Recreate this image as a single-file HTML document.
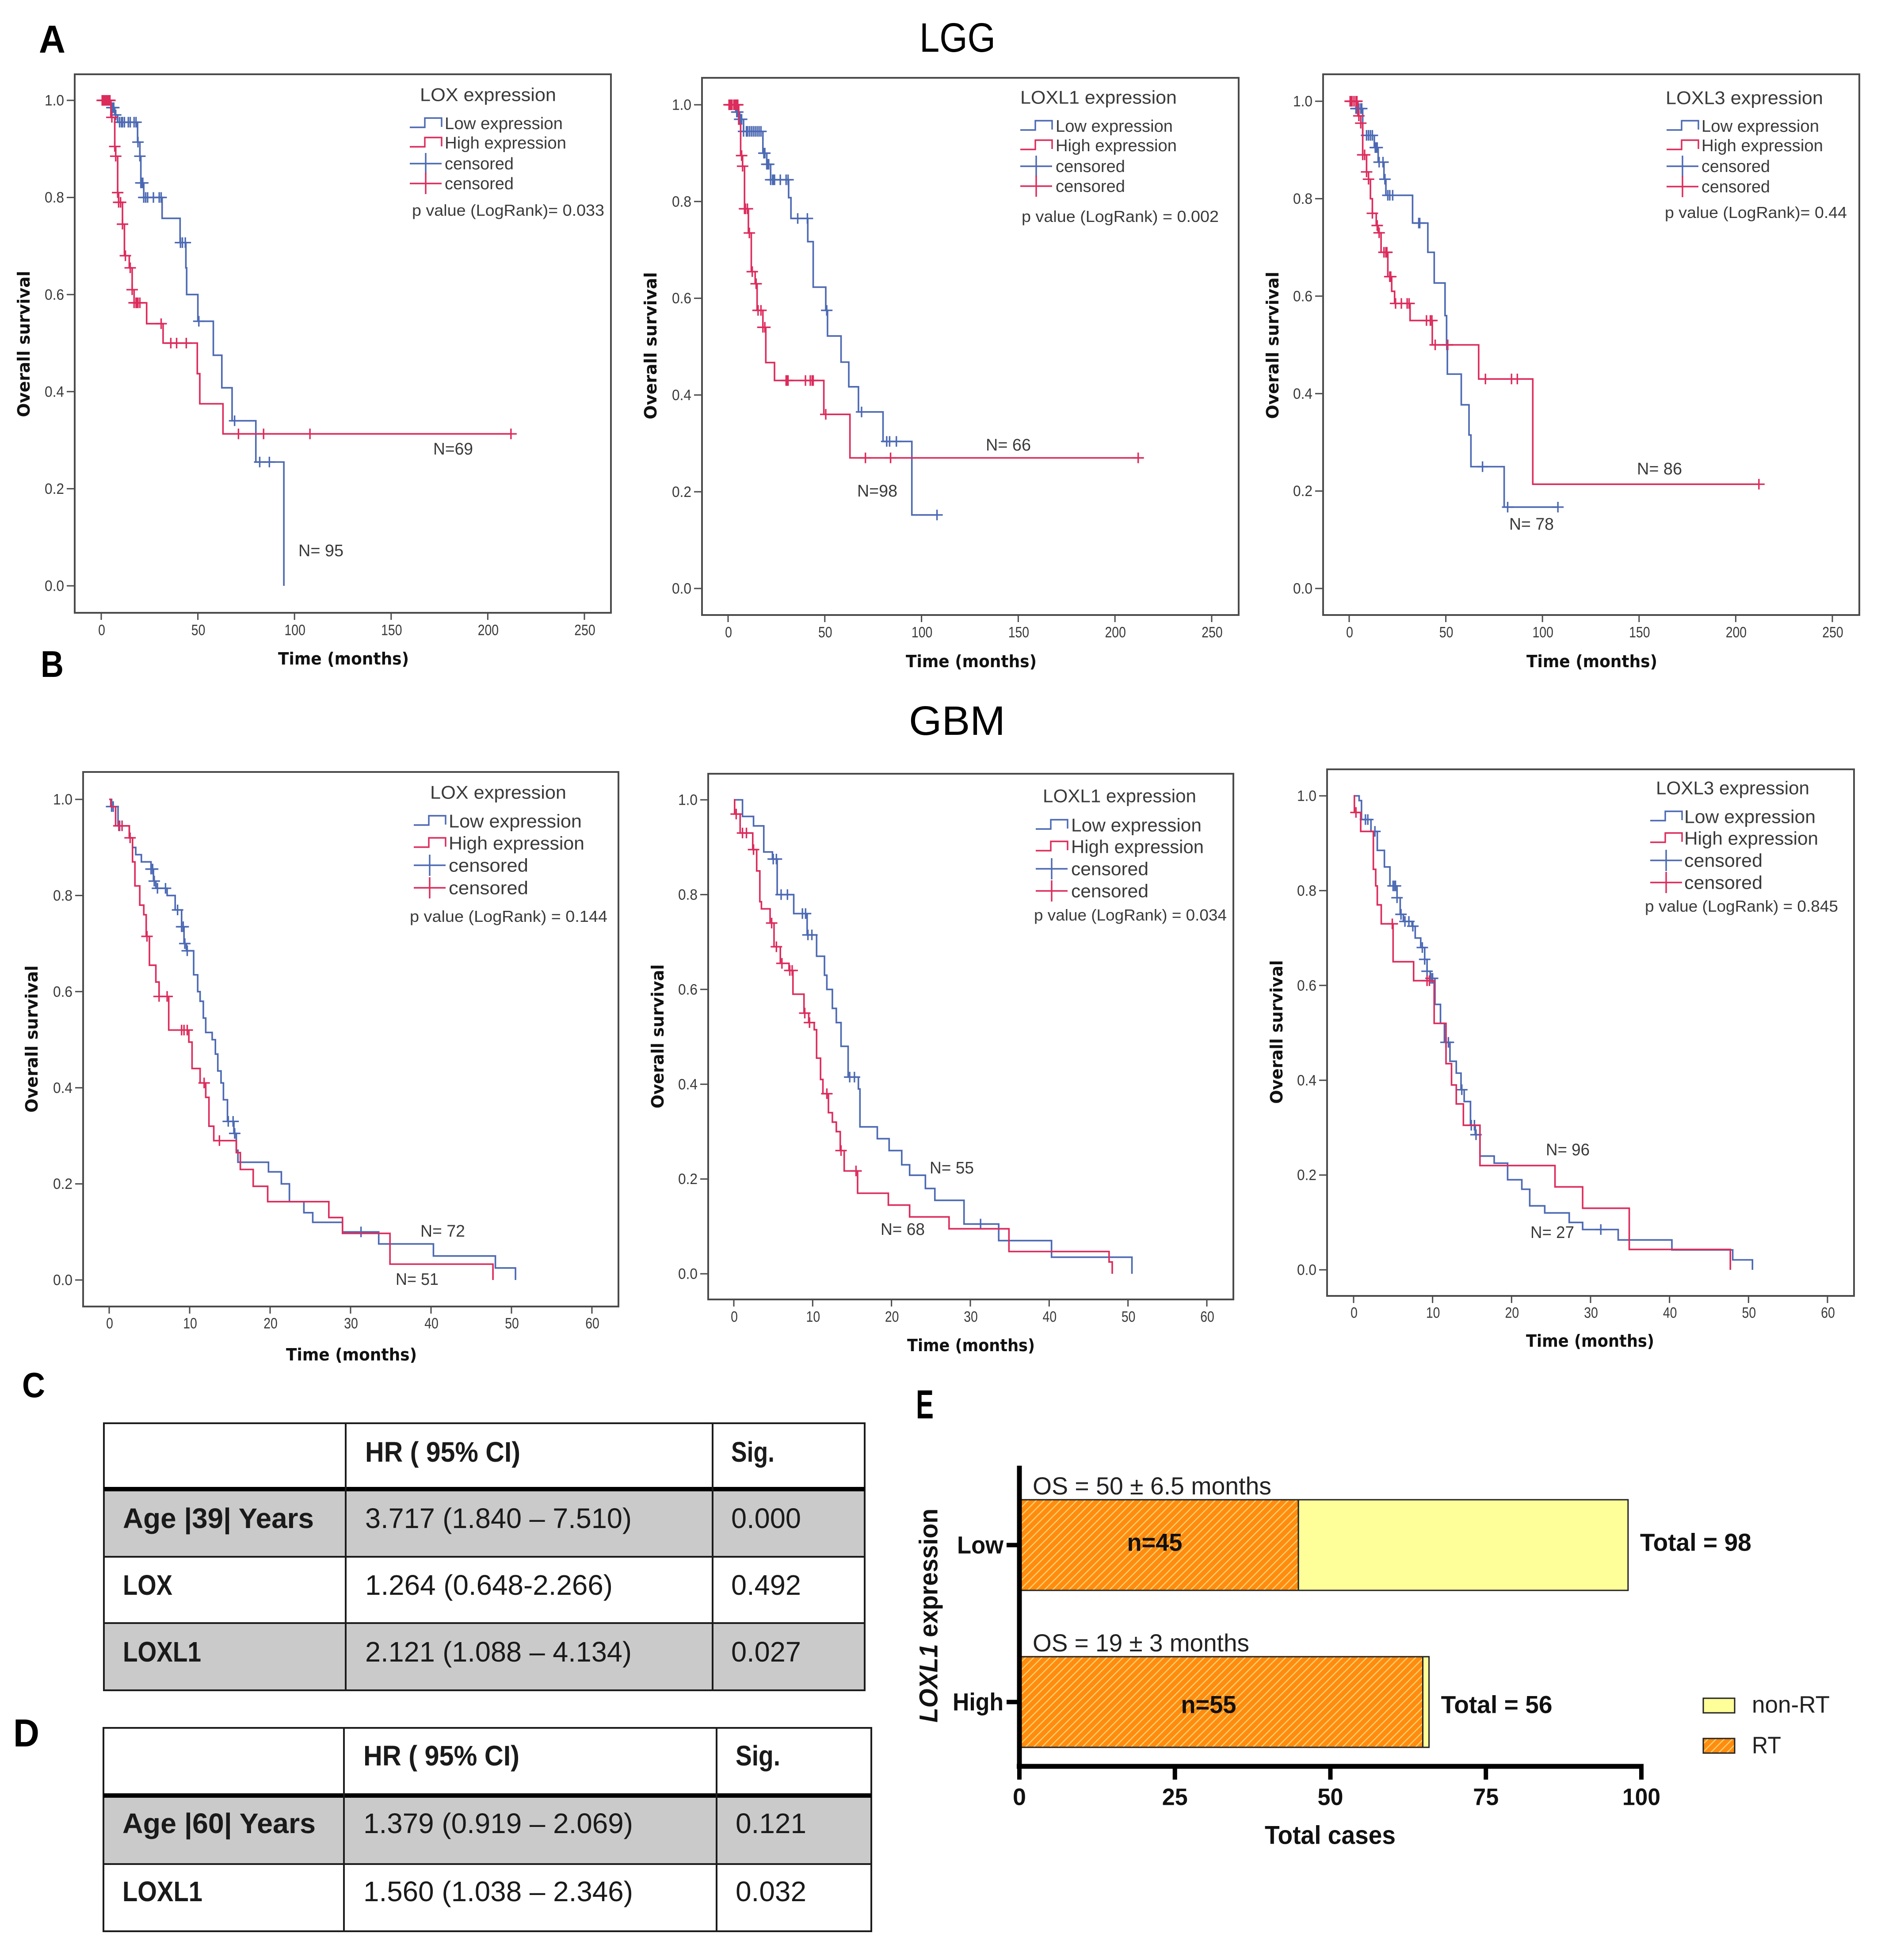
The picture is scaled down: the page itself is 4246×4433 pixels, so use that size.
<!DOCTYPE html>
<html lang="en">
<head>
<meta charset="utf-8">
<title>LOX family survival figure</title>
<style>
html,body{margin:0;padding:0;background:#fff;}
#figure-root{position:relative;width:4246px;height:4433px;overflow:hidden;background:#fff;}
svg{display:block;}
.cell{font-family:"Liberation Sans",sans-serif;font-size:64px;fill:#1a1a1a;}
.cell-b{font-family:"Liberation Sans",sans-serif;font-size:64px;font-weight:bold;fill:#1a1a1a;}
.panel{font-family:"Liberation Sans",sans-serif;font-weight:bold;fill:#000;}
.line{stroke:#1c1c1c;stroke-width:4;}
.thick{stroke:#000;stroke-width:10;}
</style>
</head>
<body>
<div id="figure-root">
<svg id="figure" xmlns="http://www.w3.org/2000/svg" width="4246" height="4433" viewBox="0 0 4246 4433">
  <defs>
    <pattern id="rt-hatch" patternUnits="userSpaceOnUse" width="13" height="13" patternTransform="rotate(45)">
      <rect width="13" height="13" fill="#ff8c0e"/>
      <rect width="2.6" height="13" fill="#ffcf70"/>
    </pattern>
  </defs>

  <text class="panel" x="88" y="119" font-size="88" textLength="60" lengthAdjust="spacingAndGlyphs">A</text>
  <text class="panel" x="92" y="1531" font-size="84" textLength="52" lengthAdjust="spacingAndGlyphs">B</text>
  <text class="panel" x="50" y="3160" font-size="80" textLength="52" lengthAdjust="spacingAndGlyphs">C</text>
  <text class="panel" x="30" y="3950" font-size="88" textLength="59" lengthAdjust="spacingAndGlyphs">D</text>
  <text class="panel" x="2072" y="3208" font-size="92" textLength="40" lengthAdjust="spacingAndGlyphs">E</text>
  <text x="2080" y="117" font-family="Liberation Sans, sans-serif" font-size="93" fill="#000" textLength="172" lengthAdjust="spacingAndGlyphs">LGG</text>
  <text x="2056" y="1662" font-family="Liberation Sans, sans-serif" font-size="93" fill="#000" textLength="218" lengthAdjust="spacingAndGlyphs">GBM</text>

  <g>
    <rect x="235" y="3368" width="1721" height="153" fill="#cacaca"/>
    <rect x="235" y="3671" width="1721" height="152" fill="#cacaca"/>
    <rect class="line" x="235" y="3219" width="1721" height="604" fill="none"/>
    <line class="thick" x1="235" x2="1956" y1="3368" y2="3368"/>
    <line class="line" x1="235" x2="1956" y1="3521" y2="3521"/>
    <line class="line" x1="235" x2="1956" y1="3671" y2="3671"/>
    <line class="line" x1="782" x2="782" y1="3219" y2="3823"/>
    <line class="line" x1="1612" x2="1612" y1="3219" y2="3823"/>
    <text class="cell-b" x="826" y="3306" textLength="351" lengthAdjust="spacingAndGlyphs">HR ( 95% CI)</text>
    <text class="cell-b" x="1654" y="3306" textLength="98" lengthAdjust="spacingAndGlyphs">Sig.</text>
    <text class="cell-b" x="278" y="3456" textLength="432" lengthAdjust="spacingAndGlyphs">Age |39| Years</text>
    <text class="cell" x="826" y="3456" textLength="603" lengthAdjust="spacingAndGlyphs">3.717 (1.840 – 7.510)</text>
    <text class="cell" x="1654" y="3456" textLength="158" lengthAdjust="spacingAndGlyphs">0.000</text>
    <text class="cell-b" x="278" y="3607" textLength="112" lengthAdjust="spacingAndGlyphs">LOX</text>
    <text class="cell" x="826" y="3607" textLength="560" lengthAdjust="spacingAndGlyphs">1.264 (0.648-2.266)</text>
    <text class="cell" x="1654" y="3607" textLength="158" lengthAdjust="spacingAndGlyphs">0.492</text>
    <text class="cell-b" x="278" y="3758" textLength="177" lengthAdjust="spacingAndGlyphs">LOXL1</text>
    <text class="cell" x="826" y="3758" textLength="603" lengthAdjust="spacingAndGlyphs">2.121 (1.088 – 4.134)</text>
    <text class="cell" x="1654" y="3758" textLength="158" lengthAdjust="spacingAndGlyphs">0.027</text>
  </g>

  <g>
    <rect x="234" y="4061" width="1737" height="155" fill="#cacaca"/>
    <rect class="line" x="234" y="3908" width="1737" height="460" fill="none"/>
    <line class="thick" x1="234" x2="1971" y1="4061" y2="4061"/>
    <line class="line" x1="234" x2="1971" y1="4216" y2="4216"/>
    <line class="line" x1="778" x2="778" y1="3908" y2="4368"/>
    <line class="line" x1="1621" x2="1621" y1="3908" y2="4368"/>
    <text class="cell-b" x="822" y="3993" textLength="353" lengthAdjust="spacingAndGlyphs">HR ( 95% CI)</text>
    <text class="cell-b" x="1664" y="3993" textLength="101" lengthAdjust="spacingAndGlyphs">Sig.</text>
    <text class="cell-b" x="277" y="4146" textLength="437" lengthAdjust="spacingAndGlyphs">Age |60| Years</text>
    <text class="cell" x="822" y="4146" textLength="610" lengthAdjust="spacingAndGlyphs">1.379 (0.919 – 2.069)</text>
    <text class="cell" x="1664" y="4146" textLength="160" lengthAdjust="spacingAndGlyphs">0.121</text>
    <text class="cell-b" x="277" y="4300" textLength="181" lengthAdjust="spacingAndGlyphs">LOXL1</text>
    <text class="cell" x="822" y="4300" textLength="610" lengthAdjust="spacingAndGlyphs">1.560 (1.038 – 2.346)</text>
    <text class="cell" x="1664" y="4300" textLength="160" lengthAdjust="spacingAndGlyphs">0.032</text>
  </g>
</svg>
</div>

<script>
// Axis values
const lggTimeTicks = [0, 50, 100, 150, 200, 250];
const gbmTimeTicks = [0, 10, 20, 30, 40, 50, 60];
const survivalTicks = [0, 0.2, 0.4, 0.6, 0.8, 1];

// LGG / LOX
const lggLoxLowTimes = [5, 7, 8.5, 18.8, 20, 20.5, 22, 31.5, 40.8, 43.8, 44.2, 50, 58, 62.4, 67.7, 80, 94.5];
const lggLoxLowSurvival = [0.985, 0.97, 0.955, 0.914, 0.885, 0.83, 0.8, 0.757, 0.707, 0.655, 0.6, 0.545, 0.475, 0.408, 0.34, 0.255, 0];
const lggLoxLowCensored = [5.5, 6, 6.5, 7.5, 9.5, 10.5, 11, 12, 14, 15, 17, 18, 19, 20, 20.5, 21, 21.5, 22, 23, 24, 27, 30, 31, 41, 42, 43.5, 50.5, 69, 82, 87];
const lggLoxHighTimes = [5, 7, 7.5, 8.5, 9, 11, 12, 14.5, 16, 17, 23.5, 32, 49.7, 51, 63];
const lggLoxHighSurvival = [0.965, 0.905, 0.885, 0.81, 0.79, 0.745, 0.68, 0.655, 0.61, 0.583, 0.54, 0.5, 0.437, 0.375, 0.313];
const lggLoxHighCensored = [0.5, 1, 1.5, 2, 2.5, 3, 3.5, 4, 4.5, 5.5, 7, 7.5, 8.5, 9, 10, 11, 12.5, 15, 16, 17, 18, 18.5, 19, 20, 31, 36, 39, 44, 71, 84, 108, 212];

// LGG / LOXL1
const lggLoxl1LowTimes = [4, 6, 8, 18, 20, 22, 31.3, 32.5, 41.2, 44, 50.5, 51.4, 58.4, 62.4, 67.4, 80.1, 95];
const lggLoxl1LowSurvival = [0.985, 0.97, 0.945, 0.9, 0.877, 0.845, 0.808, 0.765, 0.717, 0.623, 0.575, 0.522, 0.468, 0.417, 0.365, 0.304, 0.152];
const lggLoxl1LowCensored = [4.5, 5, 6, 6.5, 7, 8, 9.5, 10, 11, 12, 13, 14, 15, 16, 17, 18.5, 19, 20, 20.5, 21, 22, 23, 23.5, 24, 27, 30, 31, 36, 41, 51, 69, 82, 83.5, 87, 108];
const lggLoxl1HighTimes = [5.5, 6.5, 7.5, 8.5, 10.5, 12, 14, 15, 18, 19.5, 24, 49.5, 63];
const lggLoxl1HighSurvival = [0.96, 0.895, 0.873, 0.785, 0.735, 0.655, 0.63, 0.575, 0.54, 0.467, 0.43, 0.36, 0.27];
const lggLoxl1HighCensored = [0.5, 1, 1.5, 2, 3, 3.5, 4, 4.5, 5, 7, 7.5, 8.5, 9, 10, 11, 12.5, 14.5, 15.5, 17, 18, 19, 30, 30.5, 31, 40, 42.5, 43.5, 44, 50.5, 71, 84, 212];

// LGG / LOXL3
const lggLoxl3LowTimes = [3.5, 7, 13, 15, 18, 19, 32.8, 40.7, 44, 49.6, 50.4, 50.8, 58, 62, 63, 80.2];
const lggLoxl3LowSurvival = [0.985, 0.93, 0.905, 0.875, 0.84, 0.807, 0.75, 0.69, 0.627, 0.56, 0.5, 0.44, 0.377, 0.315, 0.25, 0.167];
const lggLoxl3LowCensored = [3.5, 4, 5, 6, 6.5, 9, 10, 11, 12, 13.5, 14, 14.5, 15.5, 17.5, 18.5, 20, 21, 22.5, 36, 36.5, 50.5, 69, 82, 108];
const lggLoxl3HighTimes = [4.5, 6, 7, 9, 10, 11, 12, 14, 15, 16.5, 20, 22, 23.5, 31.5, 43, 67, 95];
const lggLoxl3HighSurvival = [0.97, 0.955, 0.89, 0.855, 0.84, 0.8, 0.77, 0.745, 0.73, 0.69, 0.64, 0.61, 0.585, 0.55, 0.5, 0.43, 0.214];
const lggLoxl3HighCensored = [0.5, 1, 1.5, 2.5, 3.5, 4, 5, 6, 7, 8, 9, 10, 12, 14.5, 15.5, 18, 19, 19.5, 21, 21.5, 24, 27, 30, 31, 40, 42, 42.8, 44.5, 51, 70.5, 84, 87, 212];

// GBM / LOX
const gbmLoxLowTimes = [0.3, 1.1, 2.5, 2.9, 3.3, 4, 5.2, 5.5, 5.8, 7.2, 8.2, 9, 9.3, 9.6, 10.5, 11, 11.3, 11.7, 12, 12.8, 13.2, 13.5, 13.9, 14.2, 14.7, 15.5, 15.8, 16, 19.8, 21.4, 22.4, 24.2, 25.3, 29, 33.5, 40.3, 48, 50.5];
const gbmLoxLowSurvival = [0.985, 0.945, 0.92, 0.9, 0.885, 0.87, 0.855, 0.83, 0.815, 0.8, 0.77, 0.735, 0.7, 0.685, 0.635, 0.6, 0.58, 0.545, 0.515, 0.5, 0.47, 0.435, 0.41, 0.375, 0.33, 0.305, 0.27, 0.245, 0.225, 0.2, 0.163, 0.14, 0.12, 0.1, 0.075, 0.05, 0.025, 0];
const gbmLoxLowCensored = [0.3, 0.5, 1.3, 5.2, 5.4, 5.6, 6, 7, 8.5, 9, 9.2, 9.4, 9.7, 14.8, 15.4, 15.6, 31.3];
const gbmLoxHighTimes = [0.2, 0.8, 2.5, 2.9, 3.2, 3.8, 4.3, 4.6, 5, 5.8, 6.2, 7.4, 9.9, 10.3, 11.3, 12, 12.4, 13, 15.8, 16.3, 17.9, 19.7, 27.3, 29, 34.9, 47.7];
const gbmLoxHighSurvival = [0.985, 0.945, 0.92, 0.87, 0.82, 0.78, 0.76, 0.715, 0.655, 0.62, 0.59, 0.52, 0.495, 0.44, 0.41, 0.38, 0.32, 0.29, 0.265, 0.23, 0.195, 0.163, 0.13, 0.097, 0.033, 0];
const gbmLoxHighCensored = [1.2, 1.6, 2.6, 4.7, 6.2, 7.2, 9, 9.3, 9.7, 11.8, 13.7];

// GBM / LOXL1
const gbmLoxl1LowTimes = [1.1, 2.5, 3.8, 4.9, 5.5, 7.6, 9.3, 10.5, 11.5, 11.8, 12.5, 13, 13.6, 14.5, 15.8, 16, 18.2, 19.7, 21.3, 22.3, 24.3, 25.5, 29.2, 33.6, 40.3, 50.5];
const gbmLoxl1LowSurvival = [0.965, 0.945, 0.89, 0.875, 0.8, 0.76, 0.715, 0.67, 0.63, 0.6, 0.56, 0.53, 0.48, 0.415, 0.39, 0.31, 0.285, 0.26, 0.23, 0.208, 0.18, 0.155, 0.105, 0.07, 0.035, 0];
const gbmLoxl1LowCensored = [5, 5.4, 6, 6.8, 8.7, 9.1, 9.4, 9.9, 14.7, 15.3, 31.3];
const gbmLoxl1HighTimes = [0.1, 0.8, 2.4, 2.9, 3.3, 3.5, 4.6, 5.1, 5.9, 7, 7.5, 8.9, 9.5, 10.2, 10.5, 11, 11.3, 12, 12.5, 13, 13.5, 14, 15.7, 19.6, 22.3, 27.3, 34.9, 47.6, 48];
const gbmLoxl1HighSurvival = [0.97, 0.93, 0.895, 0.85, 0.785, 0.77, 0.74, 0.69, 0.655, 0.64, 0.59, 0.55, 0.53, 0.515, 0.455, 0.41, 0.38, 0.34, 0.32, 0.3, 0.26, 0.217, 0.17, 0.145, 0.12, 0.095, 0.047, 0.025, 0];
const gbmLoxl1HighCensored = [0.3, 1.1, 1.6, 2.5, 4.8, 5.4, 6.1, 7.1, 7.4, 9, 9.6, 11.8, 13.6, 15.5];

// GBM / LOXL3
const gbmLoxl3LowTimes = [0.7, 1, 2.2, 3, 3.9, 4.6, 5.5, 5.9, 6.3, 7.4, 7.8, 8.5, 9, 9.3, 9.7, 10.3, 11, 11.5, 12.2, 13, 13.6, 14, 14.8, 15.4, 16, 17.8, 19.5, 21.3, 22.3, 24.2, 27.3, 29, 33.5, 40.3, 48, 50.5];
const gbmLoxl3LowSurvival = [0.99, 0.95, 0.925, 0.885, 0.85, 0.81, 0.785, 0.75, 0.735, 0.725, 0.7, 0.68, 0.655, 0.63, 0.615, 0.56, 0.52, 0.48, 0.44, 0.415, 0.38, 0.355, 0.305, 0.285, 0.24, 0.225, 0.19, 0.17, 0.135, 0.12, 0.1, 0.085, 0.063, 0.042, 0.021, 0];
const gbmLoxl3LowCensored = [1.5, 1.8, 2.7, 5, 5.2, 5.3, 5.5, 6, 6.5, 7, 7.5, 8.7, 9, 9.3, 9.8, 10, 11.7, 12, 13.7, 14.9, 15.3, 15.5, 31.3];
const gbmLoxl3HighTimes = [0.1, 0.9, 2.5, 2.8, 3, 3.5, 5, 7.6, 10.2, 11.7, 12.4, 13, 13.9, 16, 25.5, 29, 34.9, 47.7];
const gbmLoxl3HighSurvival = [0.965, 0.925, 0.845, 0.81, 0.77, 0.73, 0.65, 0.61, 0.52, 0.435, 0.39, 0.35, 0.305, 0.22, 0.175, 0.13, 0.043, 0];
const gbmLoxl3HighCensored = [0.3, 4.9, 9.3, 9.6];

// Bar chart values
const barCategories = ['Low', 'High'];
const barRtValues = [45, 65];
const barNonRtValues = [53, 1];
const barTicks = [0, 25, 50, 75, 100];
const barOsLabels = ['OS = 50 ± 6.5 months', 'OS = 19 ± 3 months'];
const barCountLabels = ['n=45', 'n=55'];
const barTotalLabels = ['Total = 98', 'Total = 56'];

const NS = 'http://www.w3.org/2000/svg';
const svg = document.getElementById('figure');
const BLUE = '#4c69b3';
const RED = '#dc2c5c';
const SANS = '"Liberation Sans", sans-serif';
const DEJAVU = '"DejaVu Sans", "Liberation Sans", sans-serif';

function addText(parent, name, str, x, y, size, len, anchor, family, weight, fill, rotate) {
  const el = document.createElementNS(NS, 'text');
  
  
  const baseline = rotate ? x + 0.34 * size : y + 0.34 * size;
  el.setAttribute('x', rotate ? x + 0.34 * size : x);
  el.setAttribute('y', rotate ? y : baseline);
  if (rotate) el.setAttribute('transform', 'rotate(-90 ' + (x + 0.34 * size) + ' ' + y + ')');
  el.setAttribute('font-size', size);
  el.setAttribute('font-family', family || SANS);
  el.setAttribute('font-weight', weight || 'normal');
  el.setAttribute('fill', fill || '#3a3a3a');
  el.setAttribute('text-anchor', anchor || 'start');
  if (len) {
    el.setAttribute('textLength', len);
    el.setAttribute('lengthAdjust', 'spacingAndGlyphs');
  }
  el.textContent = str;
  parent.appendChild(el);
  return el;
}

function addLine(parent, name, x1, y1, x2, y2, stroke, width) {
  const el = document.createElementNS(NS, 'line');
  
  
  el.setAttribute('x1', x1);
  el.setAttribute('y1', y1);
  el.setAttribute('x2', x2);
  el.setAttribute('y2', y2);
  el.setAttribute('stroke', stroke);
  el.setAttribute('stroke-width', width);
  parent.appendChild(el);
  return el;
}

function addPath(parent, name, d, stroke, width) {
  const el = document.createElementNS(NS, 'path');
  
  
  el.setAttribute('d', d);
  el.setAttribute('fill', 'none');
  el.setAttribute('stroke', stroke);
  el.setAttribute('stroke-width', width);
  parent.appendChild(el);
  return el;
}

function addRect(parent, name, x, y, w, h, fill, stroke) {
  const el = document.createElementNS(NS, 'rect');
  
  
  el.setAttribute('x', x);
  el.setAttribute('y', y);
  el.setAttribute('width', w);
  el.setAttribute('height', h);
  el.setAttribute('fill', fill);
  if (stroke) {
    el.setAttribute('stroke', stroke);
    el.setAttribute('stroke-width', 3);
  }
  parent.appendChild(el);
  return el;
}

function survivalAt(times, survival, t) {
  let s = 1;
  for (let i = 0; i < times.length; i++) {
    if (times[i] <= t) s = survival[i];
  }
  return s;
}

function drawSeries(group, key, times, survival, censored, color, sx, sy) {
  let d = 'M' + sx(0) + ' ' + sy(1);
  for (let i = 0; i < times.length; i++) {
    d += 'H' + sx(times[i]) + 'V' + sy(survival[i]);
  }
  const lastEvent = times[times.length - 1];
  const lastCensor = censored.length ? censored[censored.length - 1] : lastEvent;
  if (lastCensor > lastEvent) d += 'H' + sx(lastCensor);
  addPath(group, key + '-survival-curve', d, color, 3.6);
  censored.forEach(function (t) {
    const cx = sx(t);
    const cy = sy(survivalAt(times, survival, t));
    addPath(group, key + '-censor-mark', 'M' + (cx - 13) + ' ' + cy + 'H' + (cx + 13) + 'M' + cx + ' ' + (cy - 12) + 'V' + (cy + 12), color, 3.4);
  });
}

function drawLegend(group, p) {
  const L = p.legend;
  addText(group, 'legend-title', p.legendTitle, L.titleX, L.titleY, 42, L.titleLen);
  const rows = [
    ['legend-low-expression', 'Low expression', BLUE, 'step', L.lowLen],
    ['legend-high-expression', 'High expression', RED, 'step', L.highLen],
    ['legend-censored-low', 'censored', BLUE, 'cross', L.censLen],
    ['legend-censored-high', 'censored', RED, 'cross', L.censLen]
  ];
  rows.forEach(function (row, i) {
    const y = L.rowY[i];
    const sx0 = L.sampleX;
    if (row[3] === 'step') {
      addPath(group, row[0] + '-sample', 'M' + sx0 + ' ' + (y + 9) + 'H' + (sx0 + 34) + 'V' + (y - 12) + 'H' + (sx0 + 72) + 'V' + (y + 8), row[2], 3.4);
    } else {
      addPath(group, row[0] + '-sample', 'M' + sx0 + ' ' + y + 'H' + (sx0 + 72) + 'M' + (sx0 + 36) + ' ' + (y - 24) + 'V' + (y + 24), row[2], 3.4);
    }
    addText(group, row[0] + '-label', row[1], L.textX, y, L.rowSize, row[4]);
  });
  addText(group, 'p-value-label', p.pText, L.pX, L.pY, 36, L.pLen);
  p.nLabels.forEach(function (n) {
    addText(group, 'sample-size-label', n[0], n[1], n[2], 38, n[3]);
  });
}

function drawKaplanMeier(p) {
  const group = document.createElementNS(NS, 'g');
  
  
  svg.appendChild(group);
  const F = p.frame;
  const xMax = p.timeTicks[p.timeTicks.length - 1];
  const sx = function (t) { return p.x0 + t * (p.xEnd - p.x0) / xMax; };
  const sy = function (s) { return p.y0 + s * (p.y1 - p.y0); };

  addRect(group, 'plot-frame', F[0], F[1], F[2] - F[0], F[3] - F[1], '#ffffff', null).setAttribute('stroke', '#4b4b4b');
  group.lastChild.setAttribute('stroke-width', 4);

  p.timeTicks.forEach(function (t) {
    addLine(group, 'x-tick', sx(t), F[3], sx(t), F[3] + 16, '#4b4b4b', 3);
    const s = String(t);
    addText(group, 'x-tick-label', s, sx(t) + 1, p.xLabelY, 34, s.length * 15.8, 'middle');
  });
  survivalTicks.forEach(function (s) {
    addLine(group, 'y-tick', F[0] - 18, sy(s), F[0], sy(s), '#4b4b4b', 3);
    addText(group, 'y-tick-label', s.toFixed(1), F[0] - 24, sy(s), 34, 44, 'end');
  });
  addText(group, 'x-axis-title', 'Time (months)', p.xTitle[0], p.xTitle[1], 38, p.xTitle[2], 'start', DEJAVU, 'bold', '#111');
  addText(group, 'y-axis-title', 'Overall survival', p.yTitle[0], p.yTitle[1], 38, p.yTitle[2], 'middle', DEJAVU, 'bold', '#111', true);

  drawSeries(group, 'low-expression', p.low[0], p.low[1], p.low[2], BLUE, sx, sy);
  drawSeries(group, 'high-expression', p.high[0], p.high[1], p.high[2], RED, sx, sy);
  drawLegend(group, p);
}

const panels = [
  { name: 'km-lgg-lox', frame: [169, 168, 1382, 1386], x0: 229, xEnd: 1322, y1: 227, y0: 1325, timeTicks: lggTimeTicks, xLabelY: 1425,
    xTitle: [629, 1490, 296], yTitle: [54, 778, 331],
    low: [lggLoxLowTimes, lggLoxLowSurvival, lggLoxLowCensored], high: [lggLoxHighTimes, lggLoxHighSurvival, lggLoxHighCensored],
    legendTitle: 'LOX expression', pText: 'p value (LogRank)= 0.033',
    legend: { titleX: 950, titleY: 214, titleLen: 308, sampleX: 927, textX: 1006, rowY: [279, 323, 370, 415], rowSize: 38, lowLen: 267, highLen: 275, censLen: 156, pX: 932, pY: 476, pLen: 435 },
    nLabels: [['N=69', 980, 1015, 90], ['N= 95', 675, 1245, 102]] },
  { name: 'km-lgg-loxl1', frame: [1588, 176, 2802, 1391], x0: 1647, xEnd: 2741, y1: 237, y0: 1331, timeTicks: lggTimeTicks, xLabelY: 1430,
    xTitle: [2049, 1496, 296], yTitle: [1472, 782, 333],
    low: [lggLoxl1LowTimes, lggLoxl1LowSurvival, lggLoxl1LowCensored], high: [lggLoxl1HighTimes, lggLoxl1HighSurvival, lggLoxl1HighCensored],
    legendTitle: 'LOXL1 expression', pText: 'p value (LogRank) = 0.002',
    legend: { titleX: 2308, titleY: 220, titleLen: 354, sampleX: 2308, textX: 2388, rowY: [285, 329, 376, 421], rowSize: 38, lowLen: 265, highLen: 274, censLen: 157, pX: 2311, pY: 490, pLen: 446 },
    nLabels: [['N= 66', 2230, 1006, 102], ['N=98', 1939, 1110, 91]] },
  { name: 'km-lgg-loxl3', frame: [2993, 168, 4206, 1391], x0: 3052, xEnd: 4145, y1: 229, y0: 1331, timeTicks: lggTimeTicks, xLabelY: 1430,
    xTitle: [3453, 1496, 296], yTitle: [2879, 781, 333],
    low: [lggLoxl3LowTimes, lggLoxl3LowSurvival, lggLoxl3LowCensored], high: [lggLoxl3HighTimes, lggLoxl3HighSurvival, lggLoxl3HighCensored],
    legendTitle: 'LOXL3 expression', pText: 'p value (LogRank)= 0.44',
    legend: { titleX: 3768, titleY: 221, titleLen: 356, sampleX: 3770, textX: 3849, rowY: [285, 329, 376, 422], rowSize: 38, lowLen: 266, highLen: 275, censLen: 155, pX: 3766, pY: 481, pLen: 412 },
    nLabels: [['N= 86', 3703, 1060, 102], ['N= 78', 3414, 1185, 101]] },
  { name: 'km-gbm-lox', frame: [188, 1746, 1399, 2955], x0: 247, xEnd: 1339, y1: 1808, y0: 2895, timeTicks: gbmTimeTicks, xLabelY: 2993,
    xTitle: [647, 3064, 296], yTitle: [72, 2350, 333],
    low: [gbmLoxLowTimes, gbmLoxLowSurvival, gbmLoxLowCensored], high: [gbmLoxHighTimes, gbmLoxHighSurvival, gbmLoxHighCensored],
    legendTitle: 'LOX expression', pText: 'p value (LogRank) = 0.144',
    legend: { titleX: 973, titleY: 1792, titleLen: 308, sampleX: 936, textX: 1015, rowY: [1857, 1907, 1957, 2008], rowSize: 42, lowLen: 301, highLen: 307, censLen: 180, pX: 927, pY: 2073, pLen: 447 },
    nLabels: [['N= 72', 951, 2784, 101], ['N= 51', 895, 2893, 97]] },
  { name: 'km-gbm-loxl1', frame: [1602, 1750, 2790, 2939], x0: 1660, xEnd: 2730, y1: 1809, y0: 2881, timeTicks: gbmTimeTicks, xLabelY: 2978,
    xTitle: [2052, 3043, 289], yTitle: [1488, 2344, 326],
    low: [gbmLoxl1LowTimes, gbmLoxl1LowSurvival, gbmLoxl1LowCensored], high: [gbmLoxl1HighTimes, gbmLoxl1HighSurvival, gbmLoxl1HighCensored],
    legendTitle: 'LOXL1 expression', pText: 'p value (LogRank) = 0.034',
    legend: { titleX: 2359, titleY: 1800, titleLen: 347, sampleX: 2343, textX: 2423, rowY: [1866, 1915, 1965, 2015], rowSize: 42, lowLen: 295, highLen: 300, censLen: 175, pX: 2339, pY: 2070, pLen: 436 },
    nLabels: [['N= 55', 2103, 2641, 100], ['N= 68', 1992, 2780, 100]] },
  { name: 'km-gbm-loxl3', frame: [3002, 1740, 4194, 2931], x0: 3062, xEnd: 4134, y1: 1800, y0: 2872, timeTicks: gbmTimeTicks, xLabelY: 2969,
    xTitle: [3452, 3033, 290], yTitle: [2888, 2334, 325],
    low: [gbmLoxl3LowTimes, gbmLoxl3LowSurvival, gbmLoxl3LowCensored], high: [gbmLoxl3HighTimes, gbmLoxl3HighSurvival, gbmLoxl3HighCensored],
    legendTitle: 'LOXL3 expression', pText: 'p value (LogRank) = 0.845',
    legend: { titleX: 3746, titleY: 1782, titleLen: 347, sampleX: 3733, textX: 3810, rowY: [1847, 1896, 1946, 1996], rowSize: 42, lowLen: 297, highLen: 303, censLen: 177, pX: 3721, pY: 2050, pLen: 437 },
    nLabels: [['N= 96', 3497, 2600, 99], ['N= 27', 3462, 2787, 99]] }
];

panels.forEach(drawKaplanMeier);

function drawBarChart() {
  const group = document.createElementNS(NS, 'g');
  
  
  svg.appendChild(group);
  const sx = function (v) { return 2306 + v * 14.07; };
  const rowTop = function (i) { return 3392 + i * 355; };
  const rowHeight = 205;

  barCategories.forEach(function (cat, i) {
    const top = rowTop(i);
    const rt = barRtValues[i];
    const non = barNonRtValues[i];
    const labelY = top + rowHeight / 2 + (i === 0 ? -6 : 6);
    addRect(group, 'bar-rt-' + cat.toLowerCase(), sx(0), top, sx(rt) - sx(0) - 2, rowHeight, 'url(#rt-hatch)', '#222');
    addRect(group, 'bar-non-rt-' + cat.toLowerCase(), sx(rt) - 2, top, sx(rt + non) - sx(rt), rowHeight, '#ffff99', '#222');
    addLine(group, 'category-tick', 2277, top + rowHeight / 2, 2306, top + rowHeight / 2, '#000', 10);
    addText(group, 'category-label', cat, 2270, top + rowHeight / 2, 56, i === 0 ? 105 : 115, 'end', SANS, 'bold', '#111');
    addText(group, 'overall-survival-label', barOsLabels[i], 2336, top - 31, 56, i === 0 ? 540 : 490, 'start', SANS, 'normal', '#222');
    addText(group, 'case-count-label', barCountLabels[i], i === 0 ? 2612 : 2734, labelY, 56, 125, 'middle', SANS, 'bold', '#111');
    addText(group, 'total-label', barTotalLabels[i], sx(rt + non) + 25, labelY, 56, 252, 'start', SANS, 'bold', '#111');
  });

  addLine(group, 'y-axis-line', 2306, 3315, 2306, 4000, '#000', 11);
  addLine(group, 'x-axis-line', 2300, 3995, sx(100) + 5, 3995, '#000', 11);
  barTicks.forEach(function (t) {
    addLine(group, 'x-tick', sx(t), 3995, sx(t), 4025, '#000', 10);
    const s = String(t);
    addText(group, 'x-tick-label', s, sx(t), 4064, 54, s.length * 28 + 2, 'middle', SANS, 'bold', '#111');
  });
  addText(group, 'x-axis-title', 'Total cases', 3009, 4151, 58, 296, 'middle', SANS, 'bold', '#111');

  const yTitle = addText(group, 'y-axis-title', '', 2101, 3654, 58, 484, 'middle', SANS, 'bold', '#111', true);
  const italicPart = document.createElementNS(NS, 'tspan');
  italicPart.setAttribute('font-style', 'italic');
  italicPart.textContent = 'LOXL1';
  yTitle.appendChild(italicPart);
  yTitle.appendChild(document.createTextNode(' expression'));

  addRect(group, 'legend-swatch-non-rt', 3853, 3841, 71, 33, '#ffff99', '#222');
  addText(group, 'legend-label-non-rt', 'non-RT', 3963, 3855, 54, 176, 'start', SANS, 'normal', '#222');
  addRect(group, 'legend-swatch-rt', 3853, 3932, 71, 33, 'url(#rt-hatch)', '#222');
  addText(group, 'legend-label-rt', 'RT', 3963, 3947, 54, 66, 'start', SANS, 'normal', '#222');
}
drawBarChart();
</script>
</body>
</html>
